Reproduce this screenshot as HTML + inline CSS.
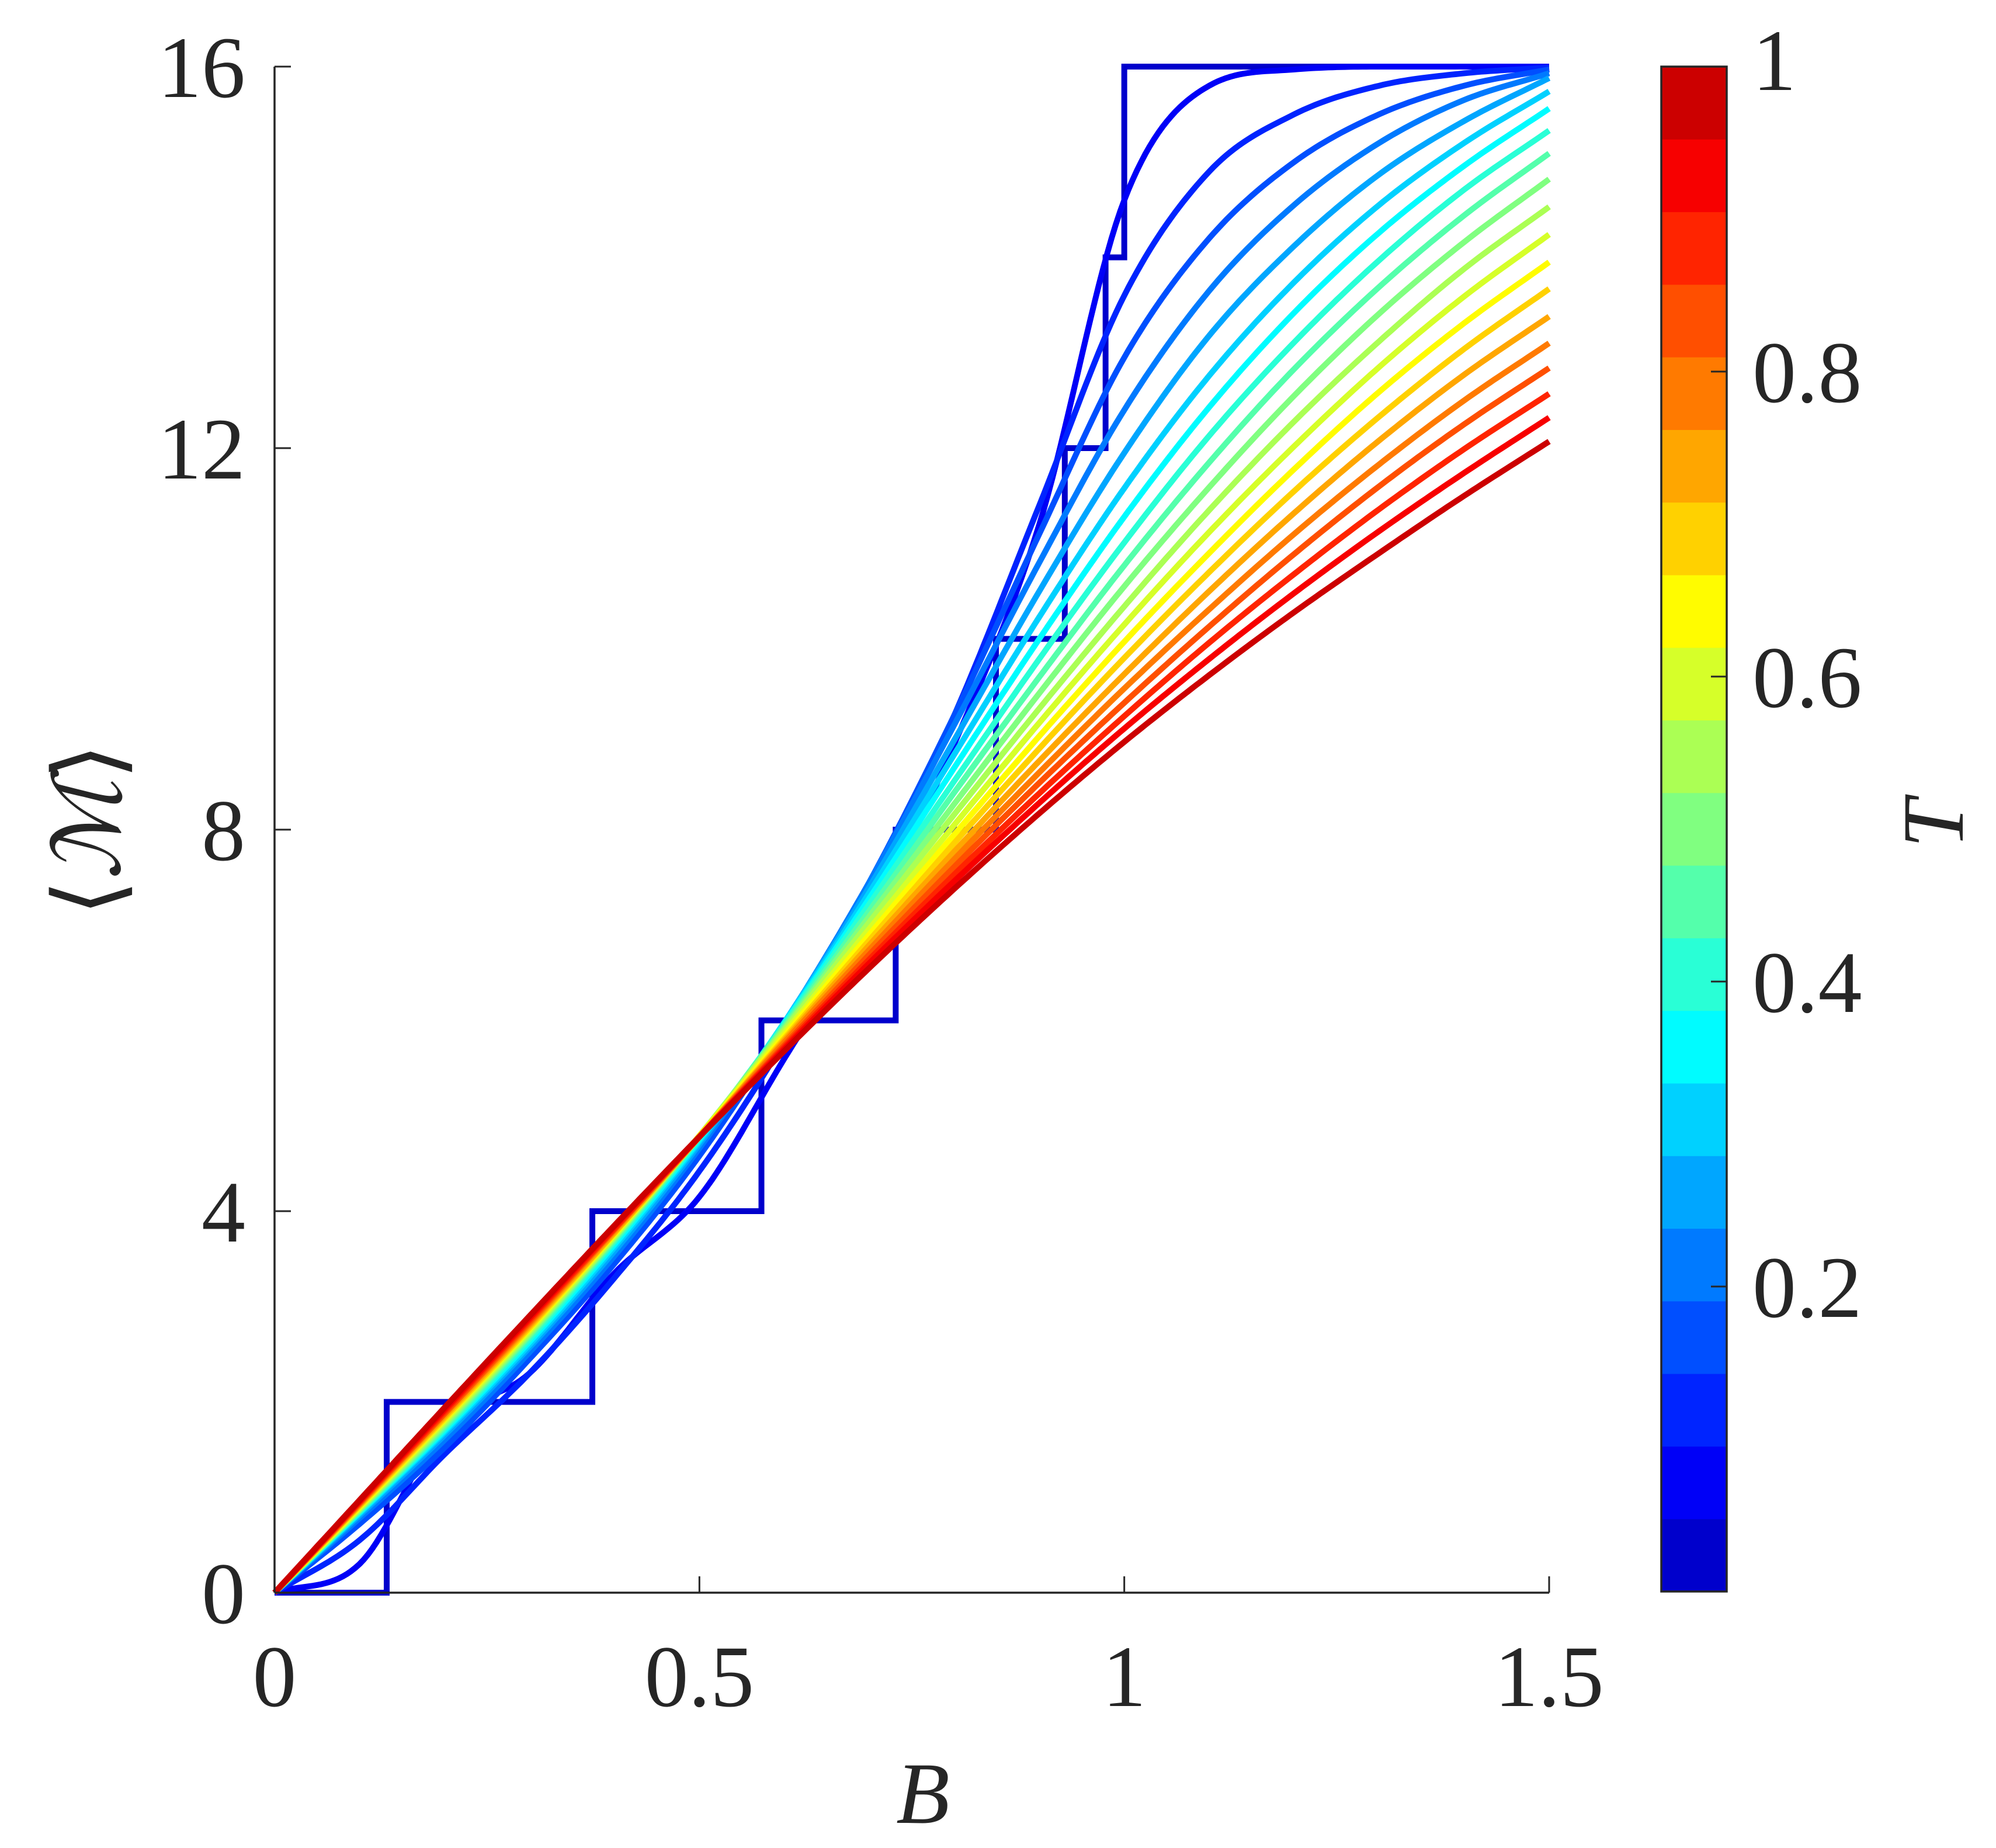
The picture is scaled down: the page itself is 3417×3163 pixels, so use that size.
<!DOCTYPE html>
<html>
<head>
<meta charset="utf-8">
<style>
  html, body { margin: 0; padding: 0; background: #fff; }
  svg { display: block; }
  text { font-family: "Liberation Serif", "DejaVu Serif", serif; fill: #262626; }
</style>
</head>
<body>
<svg id="chart" width="3417" height="3163" viewBox="0 0 3417 3163" xmlns="http://www.w3.org/2000/svg">
  <g id="curves"></g>
  <g id="axes"></g>
  <g id="cbar"></g>
  <text x="1580" y="3120" font-size="150" font-style="italic" text-anchor="middle">B</text>
  <text x="0" y="0" font-size="160" text-anchor="middle" transform="translate(205,1420) rotate(-90)">⟨<tspan font-family="DejaVu Serif, serif" font-style="italic">ℳ</tspan>⟩</text>
  <text x="0" y="0" font-size="150" font-style="italic" text-anchor="middle" transform="translate(3360,1410) rotate(-90)">T</text>
</svg>
<script>
// ---------- data ----------
const bGrid = [0,0.1,0.2,0.3,0.4,0.5,0.6,0.7,0.8,0.9,1.0,1.1,1.2,1.3,1.4,1.5];
const tempValues = [0.05,0.1,0.15,0.2,0.25,0.3,0.35,0.4,0.45,0.5,0.55,0.6,0.65,0.7,0.75,0.8,0.85,0.9,0.95,1.0];
const mT005 = [0,0.3,1.75,2.3,3.35,4.15,5.6,7.05,8.9,11.2,14.6,15.8,15.97,16,16,16];
const mT010 = [0,0.55,1.45,2.3,3.3,4.42,5.78,7.35,9.2,11.4,13.6,14.9,15.5,15.8,15.93,15.99];
const mT015 = [0,0.72,1.52,2.45,3.45,4.58,5.92,7.45,9.2,11.1,12.95,14.2,15.0,15.5,15.8,15.97];
const mT020 = [0,0.78,1.6,2.52,3.53,4.66,5.97,7.45,9.1,10.8,12.4,13.65,14.55,15.2,15.65,15.93];
const mT025 = [0,0.81,1.65,2.57,3.58,4.7,5.98,7.4,8.94,10.5,11.95,13.18,14.12,14.87,15.43,15.88];
const mT030 = [0,0.83,1.68,2.6,3.62,4.73,5.98,7.34,8.79,10.23,11.58,12.76,13.74,14.55,15.2,15.74];
const mT035 = [0,0.84,1.7,2.63,3.65,4.75,5.97,7.28,8.65,10.0,11.28,12.43,13.42,14.26,14.96,15.56];
const mT040 = [0,0.85,1.72,2.66,3.68,4.77,5.96,7.22,8.51,9.79,11.01,12.13,13.11,13.97,14.71,15.33];
const mT045 = [0,0.86,1.74,2.69,3.7,4.78,5.94,7.15,8.39,9.6,10.77,11.85,12.83,13.69,14.44,15.09];
const mT050 = [0,0.87,1.76,2.71,3.72,4.79,5.92,7.09,8.27,9.43,10.55,11.59,12.55,13.41,14.16,14.82];
const mT055 = [0,0.88,1.78,2.73,3.73,4.79,5.9,7.03,8.16,9.27,10.34,11.35,12.28,13.12,13.88,14.53];
const mT060 = [0,0.89,1.8,2.75,3.75,4.79,5.87,6.96,8.05,9.12,10.15,11.12,12.02,12.85,13.59,14.24];
const mT065 = [0,0.9,1.82,2.77,3.76,4.79,5.84,6.9,7.95,8.98,9.97,10.9,11.78,12.59,13.31,13.95];
const mT070 = [0,0.91,1.83,2.78,3.77,4.78,5.81,6.84,7.86,8.85,9.8,10.7,11.55,12.33,13.04,13.67];
const mT075 = [0,0.92,1.85,2.8,3.78,4.78,5.79,6.79,7.77,8.72,9.63,10.5,11.32,12.08,12.77,13.38];
const mT080 = [0,0.93,1.87,2.82,3.8,4.78,5.77,6.74,7.69,8.6,9.48,10.31,11.1,11.83,12.5,13.1];
const mT085 = [0,0.94,1.88,2.84,3.81,4.78,5.74,6.69,7.61,8.49,9.33,10.13,10.89,11.6,12.25,12.84];
const mT090 = [0,0.95,1.9,2.86,3.82,4.78,5.72,6.64,7.53,8.38,9.19,9.96,10.68,11.36,11.99,12.57];
const mT095 = [0,0.96,1.92,2.88,3.84,4.78,5.7,6.6,7.46,8.28,9.06,9.79,10.48,11.13,11.74,12.32];
const mT100 = [0,0.97,1.94,2.9,3.85,4.78,5.68,6.55,7.38,8.17,8.92,9.62,10.28,10.9,11.5,12.07];
const stepFields = [0.132,0.374,0.573,0.731,0.849,0.930,0.978,1.0];
const stepLevels = [0,2,4,6,8,10,12,14,16];
const xTicks = [0,0.5,1,1.5];
const xTickLabels = ["0","0.5","1","1.5"];
const yTicks = [0,4,8,12,16];
const yTickLabels = ["0","4","8","12","16"];
const cbarLevels = [0,0.05,0.1,0.15,0.2,0.25,0.3,0.35,0.4,0.45,0.5,0.55,0.6,0.65,0.7,0.75,0.8,0.85,0.9,0.95,1.0];
const cbarTicks = [0.2,0.4,0.6,0.8,1];
const cbarTickLabels = ["0.2","0.4","0.6","0.8","1"];

const series = [mT005,mT010,mT015,mT020,mT025,mT030,mT035,mT040,mT045,mT050,mT055,mT060,mT065,mT070,mT075,mT080,mT085,mT090,mT095,mT100];

// ---------- axes ----------
const X0 = 470, X1 = 2652, Y0 = 2726, Y1 = 114;
const xScale = b => X0 + (b - 0) / 1.5 * (X1 - X0);
const yScale = m => Y0 - m / 16 * (Y0 - Y1);
const CB_L = 2844, CB_R = 2956, CB_B = 2724, CB_T = 114;
const cScale = t => CB_B - t * (CB_B - CB_T);
const NS = "http://www.w3.org/2000/svg";

function jet(t) {
  const x = 0.075 + 0.85 * t;
  const c = v => Math.round(255 * Math.max(0, Math.min(1, v)));
  return `rgb(${c(1.5 - Math.abs(4*x - 3))},${c(1.5 - Math.abs(4*x - 2))},${c(1.5 - Math.abs(4*x - 1))})`;
}

function monotone(xs, ys) {
  const n = xs.length, d = [], m = new Array(n);
  for (let i = 0; i < n - 1; i++) d.push((ys[i+1]-ys[i])/(xs[i+1]-xs[i]));
  m[0] = d[0]; m[n-1] = d[n-2];
  for (let i = 1; i < n - 1; i++) m[i] = (d[i-1]*d[i] <= 0) ? 0 : (d[i-1]+d[i])/2;
  for (let i = 0; i < n - 1; i++) {
    if (d[i] === 0) { m[i] = 0; m[i+1] = 0; continue; }
    const a = m[i]/d[i], b = m[i+1]/d[i], s = a*a + b*b;
    if (s > 9) { const t = 3/Math.sqrt(s); m[i] = t*a*d[i]; m[i+1] = t*b*d[i]; }
  }
  return function(x) {
    let i = 0; while (i < n - 2 && x > xs[i+1]) i++;
    const h = xs[i+1]-xs[i], t = (x - xs[i]) / h;
    const h00 = 2*t*t*t - 3*t*t + 1, h10 = t*t*t - 2*t*t + t, h01 = -2*t*t*t + 3*t*t, h11 = t*t*t - t*t;
    return h00*ys[i] + h10*h*m[i] + h01*ys[i+1] + h11*h*m[i+1];
  };
}

const curves = document.getElementById('curves');

// T = 0 staircase
let sd = `M${xScale(0)},${yScale(stepLevels[0])}`;
for (let k = 0; k < stepFields.length; k++) {
  sd += ` L${xScale(stepFields[k])},${yScale(stepLevels[k])} L${xScale(stepFields[k])},${yScale(stepLevels[k+1])}`;
}
sd += ` L${xScale(1.5)},${yScale(stepLevels[stepLevels.length-1])}`;
const stair = document.createElementNS(NS, 'path');
stair.setAttribute('d', sd);
stair.setAttribute('fill', 'none');
stair.setAttribute('stroke', jet(0));
stair.setAttribute('stroke-width', '10');


curves.appendChild(stair);

series.forEach((vals, idx) => {
  const f = monotone(bGrid, vals);
  let d = '';
  for (let k = 0; k <= 300; k++) {
    const b = 1.5 * k / 300;
    d += (k ? ' L' : 'M') + xScale(b).toFixed(1) + ',' + yScale(f(b)).toFixed(1);
  }
  const p = document.createElementNS(NS, 'path');
  p.setAttribute('d', d);
  p.setAttribute('fill', 'none');
  p.setAttribute('stroke', jet(tempValues[idx]));
  p.setAttribute('stroke-width', '10');
  p.setAttribute('stroke-linejoin', 'round');
  
  
  curves.appendChild(p);
});

// axes lines and ticks
const axes = document.getElementById('axes');
function line(g, x1, y1, x2, y2, w, name) {
  const l = document.createElementNS(NS, 'line');
  l.setAttribute('x1', x1); l.setAttribute('y1', y1);
  l.setAttribute('x2', x2); l.setAttribute('y2', y2);
  l.setAttribute('stroke', '#262626'); l.setAttribute('stroke-width', w);
  
  
  g.appendChild(l);
}
function label(g, x, y, txt, anchor, size, name) {
  const t = document.createElementNS(NS, 'text');
  t.setAttribute('x', x); t.setAttribute('y', y);
  t.setAttribute('text-anchor', anchor);
  t.setAttribute('font-size', size);
  t.textContent = txt;
  
  
  g.appendChild(t);
}
line(axes, X0, Y0, X1, Y0, 3.5, 'x-axis-line');
line(axes, X0, Y0, X0, Y1, 3.5, 'y-axis-line');
xTicks.forEach((v, i) => {
  line(axes, xScale(v), Y0, xScale(v), Y0 - 28, 3, 'x-tick');
  label(axes, xScale(v), 2920, xTickLabels[i], 'middle', 150, 'x-tick-label');
});
yTicks.forEach((v, i) => {
  line(axes, X0, yScale(v), X0 + 28, yScale(v), 3, 'y-tick');
  label(axes, 420, yScale(v) + 52, yTickLabels[i], 'end', 150, 'y-tick-label');
});

// colorbar
const cbar = document.getElementById('cbar');
const segH = (CB_B - CB_T) / cbarLevels.length;
cbarLevels.forEach((t, i) => {
  const r = document.createElementNS(NS, 'rect');
  r.setAttribute('x', CB_L);
  r.setAttribute('y', CB_B - (i + 1) * segH);
  r.setAttribute('width', CB_R - CB_L);
  r.setAttribute('height', segH + 0.5);
  r.setAttribute('fill', jet(t));
  
  
  cbar.appendChild(r);
});
const frame = document.createElementNS(NS, 'rect');
frame.setAttribute('x', CB_L); frame.setAttribute('y', CB_T);
frame.setAttribute('width', CB_R - CB_L); frame.setAttribute('height', CB_B - CB_T);
frame.setAttribute('fill', 'none'); frame.setAttribute('stroke', '#262626'); frame.setAttribute('stroke-width', '3.5');


cbar.appendChild(frame);
cbarTicks.forEach((v, i) => {
  line(cbar, CB_R - 27, cScale(v), CB_R, cScale(v), 3, 'colorbar-tick');
  const ty = v === 1 ? CB_T + 40 : cScale(v) + 52;
  label(cbar, 3000, ty, cbarTickLabels[i], 'start', 150, 'colorbar-tick-label');
});
</script>
</body>
</html>
